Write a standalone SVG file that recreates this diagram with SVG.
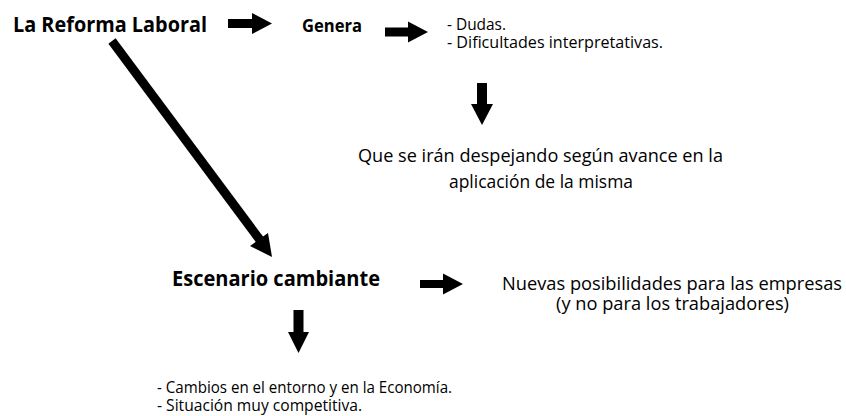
<svg xmlns="http://www.w3.org/2000/svg" width="846" height="416" viewBox="0 0 846 416">
<style>
text{font-family:"Open Sans","Noto Sans","Liberation Sans",sans-serif;fill:#000}
.b{font-weight:bold}
.arr{fill:#000;stroke:none}
</style>
<rect width="846" height="416" fill="#fff"/>
<g id="connectors">
<polygon class="arr" points="228,19 252,19 252,13 272,23.5 252,34 252,28 228,28"/>
<polygon class="arr" points="385,27.5 408,27.5 408,21.5 428,32 408,42.5 408,36.5 385,36.5"/>
<polygon class="arr" points="477,83 487,83 487,104 493,104 482,125 471,104 477,104"/>
<line x1="112" y1="41" x2="260" y2="240" stroke="#000" stroke-width="9"/>
<polygon class="arr" points="250,246 272,257 268,233"/>
<polygon class="arr" points="420,280 443,280 443,273.5 463,284 443,294.5 443,288 420,288"/>
<polygon class="arr" points="293.5,310 303.5,310 303.5,332 309,332 298.5,353 288,332 293.5,332"/>
</g>
<g id="n-reforma"><text class="b" x="13" y="32" font-size="21" textLength="194" lengthAdjust="spacingAndGlyphs">La Reforma Laboral</text></g>
<g id="n-genera"><text class="b" x="302" y="32" font-size="18" textLength="60" lengthAdjust="spacingAndGlyphs">Genera</text></g>
<g id="n-dudas">
<text x="447" y="30" font-size="16" textLength="59" lengthAdjust="spacingAndGlyphs">- Dudas.</text>
<text x="447" y="48" font-size="16" textLength="216" lengthAdjust="spacingAndGlyphs">- Dificultades interpretativas.</text>
</g>
<g id="n-despejando">
<text x="358" y="162" font-size="18" textLength="365" lengthAdjust="spacingAndGlyphs">Que se irán despejando según avance en la</text>
<text x="449" y="188" font-size="18" textLength="184" lengthAdjust="spacingAndGlyphs">aplicación de la misma</text>
</g>
<g id="n-escenario"><text class="b" x="172" y="286" font-size="21" textLength="208" lengthAdjust="spacingAndGlyphs">Escenario cambiante</text></g>
<g id="n-nuevas">
<text x="502" y="290" font-size="18" textLength="340" lengthAdjust="spacingAndGlyphs">Nuevas posibilidades para las empresas</text>
<text x="556" y="310" font-size="18" textLength="233" lengthAdjust="spacingAndGlyphs">(y no para los trabajadores)</text>
</g>
<g id="n-cambios">
<text x="157" y="393" font-size="16" textLength="295" lengthAdjust="spacingAndGlyphs">- Cambios en el entorno y en la Economía.</text>
<text x="157" y="411" font-size="16" textLength="205" lengthAdjust="spacingAndGlyphs">- Situación muy competitiva.</text>
</g>
</svg>
